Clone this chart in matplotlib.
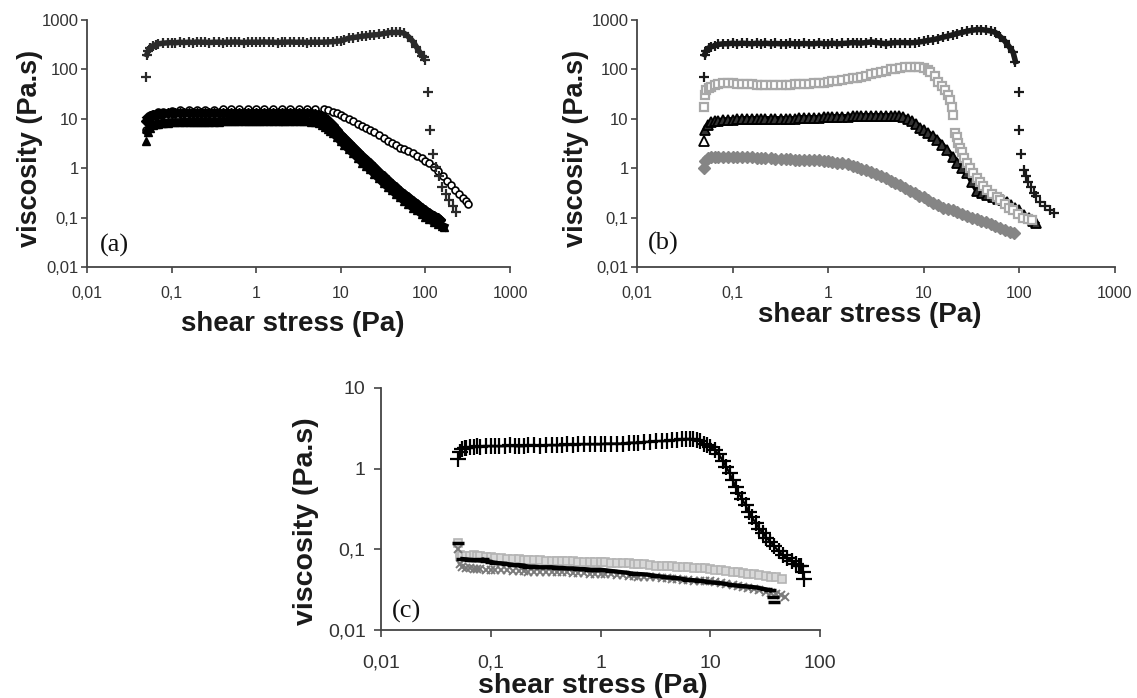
import matplotlib
matplotlib.use('Agg')
import matplotlib.pyplot as plt

plt.rcParams['font.family'] = ['Liberation Sans', 'DejaVu Sans']

# ---------------- panel (a) ----------------
a_plus_x = [0.05, 0.051, 0.053, 0.056, 0.06, 0.065, 0.07, 0.08, 0.09, 0.1,
            0.11, 0.125, 0.14, 0.16, 0.18, 0.2, 0.22, 0.25, 0.28, 0.32,
            0.36, 0.4, 0.45, 0.5, 0.56, 0.63, 0.71, 0.8, 0.9, 1.0,
            1.1, 1.25, 1.4, 1.6, 1.8, 2.0, 2.2, 2.5, 2.8, 3.2,
            3.6, 4.0, 4.5, 5.0, 5.6, 6.3, 7.1, 8.0, 9.0, 10,
            11, 12.5, 14, 16, 18, 20, 22, 25, 28, 32,
            36, 40, 45, 50, 56, 63, 70, 78, 86, 92,
            96, 100, 106, 114, 122, 132, 145, 158, 175, 190,
            210, 230]
a_plus_y = [70, 200, 240, 270, 300, 315, 330, 340, 345, 350,
            345, 355, 350, 355, 350, 360, 355, 355, 350, 355,
            355, 350, 355, 355, 360, 355, 350, 355, 355, 355,
            355, 360, 355, 355, 350, 355, 355, 360, 355, 355,
            355, 350, 355, 355, 355, 355, 360, 365, 370, 380,
            400, 430, 440, 455, 470, 480, 490, 500, 510, 530,
            550, 560, 560, 560, 540, 460, 380, 290, 220, 190,
            175, 158, 35, 6, 1.9, 1.07, 0.7, 0.42, 0.3, 0.23,
            0.17, 0.13]

a_circ_x = [0.05, 0.052, 0.055, 0.06, 0.07, 0.08, 0.1, 0.125, 0.16, 0.2,
            0.25, 0.32, 0.4, 0.5, 0.63, 0.8, 1.0, 1.25, 1.6, 2.0,
            2.5, 3.2, 4.0, 5.0, 6.3, 7.1, 8.0, 9.0, 10, 11,
            12.5, 14, 16, 18, 20, 22, 25, 28, 32, 36,
            40, 45, 50, 56, 63, 71, 80, 90, 100, 111,
            125, 140, 160, 180, 200, 225, 250, 280, 300, 316]
a_circ_y = [6, 9, 11, 12.5, 13.5, 14, 14.5, 15, 15, 15,
            15, 15, 15.5, 15.5, 15.5, 15.5, 15.5, 15.5, 15.5, 15.5,
            15.5, 15.5, 15.5, 15.5, 15.5, 15, 14, 13, 12, 11,
            10, 9, 8, 7.2, 6.5, 6, 5.3, 4.6, 4, 3.6,
            3.2, 2.9, 2.6, 2.4, 2.2, 2, 1.8, 1.6, 1.4, 1.27,
            1.05, 0.88, 0.7, 0.56, 0.46, 0.37, 0.3, 0.25, 0.22, 0.19]

a_dia_x = [0.05, 0.052, 0.055, 0.06, 0.065, 0.07, 0.075, 0.08, 0.09, 0.1,
           0.11, 0.125, 0.14, 0.16, 0.18, 0.2, 0.22, 0.25, 0.28, 0.32,
           0.36, 0.4, 0.45, 0.5, 0.56, 0.63, 0.71, 0.8, 0.9, 1.0,
           1.1, 1.25, 1.4, 1.6, 1.8, 2.0, 2.2, 2.5, 2.8, 3.2,
           3.6, 4.0, 4.5, 5.0, 5.5, 6.0, 6.5, 7.0, 7.5, 8.0,
           9.0, 10, 11, 12.5, 14, 16, 18, 20, 22, 25,
           28, 32, 36, 40, 45, 50, 56, 63, 71, 80,
           90, 100, 111, 125, 140, 150]
a_dia_y = [9, 10.5, 11.5, 12, 12, 12.5, 12.5, 12.5, 13, 13,
           13, 13, 13, 13, 13, 13, 13, 13, 13, 13,
           13, 13, 13, 13, 13, 13, 13, 13, 13, 13,
           13, 13, 13, 13, 13, 13, 13, 13, 13, 13,
           13, 13, 13, 12.5, 12, 11.3, 10.3, 9.3, 8.4, 7.5,
           6, 4.8, 4.1, 3.3, 2.7, 2.15, 1.75, 1.5, 1.28, 1.04,
           0.85, 0.68, 0.57, 0.49, 0.41, 0.35, 0.3, 0.26, 0.22, 0.19,
           0.16, 0.14, 0.125, 0.11, 0.1, 0.09]

a_tri_x = [0.05, 0.052, 0.055, 0.06, 0.065, 0.07, 0.075, 0.08, 0.09, 0.1,
           0.11, 0.125, 0.14, 0.16, 0.18, 0.2, 0.22, 0.25, 0.28, 0.32,
           0.36, 0.4, 0.45, 0.5, 0.56, 0.63, 0.71, 0.8, 0.9, 1.0,
           1.1, 1.25, 1.4, 1.6, 1.8, 2.0, 2.2, 2.5, 2.8, 3.2,
           3.6, 4.0, 4.5, 5.0, 5.5, 6.0, 6.5, 7.0, 7.5, 8.0,
           9.0, 10, 11, 12.5, 14, 16, 18, 20, 22, 25,
           28, 32, 36, 40, 45, 50, 56, 63, 71, 80,
           90, 100, 111, 125, 140, 155, 165]
a_tri_y = [3.5, 5.5, 6.5, 7.5, 7.8, 8, 8.1, 8.2, 8.4, 8.5,
           8.5, 8.5, 8.6, 8.6, 8.7, 8.7, 8.7, 8.8, 8.8, 8.8,
           8.8, 8.9, 8.9, 9, 9, 9, 9, 9, 9, 9,
           9.1, 9.1, 9.1, 9.2, 9.2, 9.2, 9.2, 9.2, 9.2, 9.2,
           9.1, 9, 8.8, 8.5, 8.1, 7.5, 6.9, 6.3, 5.7, 5.2,
           4.3, 3.5, 3, 2.4, 2, 1.6, 1.3, 1.1, 0.95, 0.77,
           0.63, 0.5, 0.42, 0.36, 0.3, 0.26, 0.22, 0.19, 0.16, 0.14,
           0.12, 0.105, 0.093, 0.082, 0.074, 0.068, 0.065]

# ---------------- panel (b) ----------------
b_plus_x = [0.05, 0.051, 0.053, 0.056, 0.06, 0.065, 0.07, 0.08, 0.09, 0.1,
            0.11, 0.125, 0.14, 0.16, 0.18, 0.2, 0.22, 0.25, 0.28, 0.32,
            0.36, 0.4, 0.45, 0.5, 0.56, 0.63, 0.71, 0.8, 0.9, 1.0,
            1.1, 1.25, 1.4, 1.6, 1.8, 2.0, 2.2, 2.5, 2.8, 3.2,
            3.6, 4.0, 4.5, 5.0, 5.6, 6.3, 7.1, 8.0, 9.0, 10,
            11, 12.5, 14, 16, 18, 20, 22, 25, 28, 32,
            36, 40, 45, 50, 56, 63, 70, 78, 86, 91,
            98, 100, 105, 113, 118, 124, 132, 141, 150, 166,
            185, 210, 228]
b_plus_y = [70, 200, 240, 270, 290, 300, 320, 330, 330, 340,
            330, 340, 335, 330, 340, 330, 340, 330, 335, 330,
            330, 335, 330, 330, 335, 330, 330, 340, 330, 330,
            340, 330, 335, 340, 350, 345, 340, 350, 360, 350,
            340, 330, 340, 350, 350, 350, 345, 350, 360, 370,
            385, 400, 420, 450, 475, 500, 530, 560, 590, 620,
            640, 640, 620, 600, 560, 460, 380, 290, 220, 144,
            35, 6, 1.9, 0.93, 0.7, 0.53, 0.42, 0.32, 0.27, 0.21,
            0.17, 0.14, 0.125]

b_sq_x = [0.05, 0.051, 0.053, 0.056, 0.06, 0.065, 0.07, 0.08, 0.09, 0.1,
          0.11, 0.125, 0.14, 0.16, 0.18, 0.2, 0.22, 0.25, 0.28, 0.32,
          0.36, 0.4, 0.45, 0.5, 0.56, 0.63, 0.71, 0.8, 0.9, 1.0,
          1.1, 1.25, 1.4, 1.6, 1.8, 2.0, 2.2, 2.5, 2.8, 3.2,
          3.6, 4.0, 4.5, 5.0, 5.6, 6.3, 7.1, 8.0, 9.0, 10,
          11, 11.7, 13, 14.2, 15.5, 16.8, 18, 18.9, 19.6, 20.3,
          21.3, 22, 23, 24, 25, 26.5, 28.5, 30.5, 33, 36,
          39, 42, 46, 52, 58, 63, 70, 78, 86, 97,
          110, 122, 135]
b_sq_y = [17, 30, 38, 43, 45, 48, 50, 52, 52, 52,
          51, 50, 50, 50, 49, 48, 48, 48, 48, 49,
          49, 49, 50, 50, 50, 51, 52, 53, 54, 56,
          57, 59, 61, 63, 66, 68, 71, 75, 79, 84,
          90, 95, 100, 104, 107, 110, 112, 113, 112, 105,
          98, 90, 72, 56, 46, 39, 30, 24, 17, 12,
          5.2, 4.2, 3.3, 2.6, 2.1, 1.6, 1.3, 1.0, 0.8, 0.63,
          0.53, 0.44, 0.37, 0.3, 0.26, 0.23, 0.19, 0.16, 0.14, 0.12,
          0.097, 0.092, 0.089]

b_tri_x = [0.05, 0.052, 0.055, 0.06, 0.065, 0.07, 0.08, 0.09, 0.1, 0.11,
           0.125, 0.14, 0.16, 0.18, 0.2, 0.22, 0.25, 0.28, 0.32, 0.36,
           0.4, 0.45, 0.5, 0.56, 0.63, 0.71, 0.8, 0.9, 1.0, 1.1,
           1.25, 1.4, 1.6, 1.8, 2.0, 2.2, 2.5, 2.8, 3.2, 3.6,
           4.0, 4.5, 5.0, 5.5, 6.1, 6.8, 7.5, 8.3, 9.2, 10,
           11, 12.4, 13.9, 15.5, 17.5, 20, 22.5, 25, 28.5, 32,
           36, 41, 46, 53, 60, 67, 74, 82, 91, 100,
           112, 125, 140, 150]
b_tri_y = [3.5, 6, 7.5, 8.5, 9, 9, 9.5, 9.5, 9.5, 9.8,
           10, 10, 10, 10, 10, 10, 10, 10, 10, 10,
           10, 10, 10.5, 10.5, 10.5, 10.5, 10.5, 11, 11, 11,
           11, 11, 11, 11.5, 11.5, 11.5, 11.5, 11.5, 11.5, 11.5,
           11.5, 11.5, 11.5, 11.5, 11, 10, 9, 7.8, 6.6, 5.9,
           5.2, 4.5, 3.8, 3.0, 2.3, 1.7, 1.3, 1.0, 0.8, 0.52,
           0.35, 0.31, 0.29, 0.26, 0.24, 0.23, 0.21, 0.18, 0.16, 0.14,
           0.115, 0.1, 0.085, 0.077]

b_dia_x = [0.05, 0.052, 0.055, 0.06, 0.065, 0.07, 0.08, 0.09, 0.1, 0.11,
           0.125, 0.14, 0.16, 0.18, 0.2, 0.22, 0.25, 0.28, 0.32, 0.36,
           0.4, 0.45, 0.5, 0.56, 0.63, 0.71, 0.8, 0.9, 1.0, 1.1,
           1.25, 1.4, 1.6, 1.8, 2.0, 2.2, 2.5, 2.8, 3.2, 3.6,
           4.0, 4.5, 5.0, 5.6, 6.3, 7.1, 8.0, 9.0, 10, 11,
           12.5, 14, 16, 18, 20, 22, 25, 28, 32, 36,
           40, 45, 50, 56, 63, 71, 80, 87]
b_dia_y = [1.0, 1.4, 1.6, 1.65, 1.65, 1.7, 1.7, 1.7, 1.7, 1.65,
           1.65, 1.65, 1.65, 1.6, 1.6, 1.6, 1.6, 1.55, 1.55, 1.55,
           1.55, 1.5, 1.5, 1.5, 1.5, 1.45, 1.45, 1.4, 1.4, 1.35,
           1.3, 1.25, 1.2, 1.1, 1.05, 0.95, 0.9, 0.82, 0.75, 0.68,
           0.62, 0.56, 0.5, 0.45, 0.4, 0.35, 0.31, 0.28, 0.26, 0.23,
           0.2, 0.18, 0.16, 0.15, 0.14, 0.13, 0.12, 0.11, 0.1, 0.092,
           0.085, 0.08, 0.075, 0.068, 0.062, 0.057, 0.052, 0.049]

# ---------------- panel (c) ----------------
c_plus_x = [0.05, 0.052, 0.055, 0.058, 0.06, 0.065, 0.07, 0.075, 0.08, 0.09,
            0.1, 0.11, 0.12, 0.135, 0.15, 0.165, 0.18, 0.2, 0.22, 0.25,
            0.28, 0.32, 0.36, 0.4, 0.45, 0.5, 0.56, 0.63, 0.71, 0.8,
            0.9, 1.0, 1.1, 1.25, 1.4, 1.6, 1.8, 2.0, 2.2, 2.5,
            2.8, 3.2, 3.6, 4.0, 4.5, 5.0, 5.5, 6.0, 6.5, 7.0,
            7.5, 8.0, 8.7, 9.4, 10, 11, 12, 13, 14, 15,
            16, 17, 18, 19.5, 21, 22.5, 24, 26, 28, 30,
            32.5, 35, 38, 42, 46, 50, 55, 60, 64, 67,
            70, 72]
c_plus_y = [1.3, 1.6, 1.75, 1.8, 1.8, 1.85, 1.85, 1.9, 1.85, 1.9,
            1.9, 1.9, 1.9, 1.9, 1.95, 1.9, 1.9, 1.9, 1.95, 1.95,
            1.9, 1.95, 1.95, 1.95, 1.95, 2.0, 1.95, 2.0, 2.0, 2.0,
            2.0, 2.0, 2.05, 2.05, 2.05, 2.05, 2.1, 2.1, 2.1, 2.15,
            2.15, 2.2, 2.2, 2.2, 2.25, 2.25, 2.3, 2.3, 2.3, 2.3,
            2.25, 2.2, 2.05, 1.95, 1.85, 1.7, 1.5, 1.25, 1.05, 0.88,
            0.72, 0.6, 0.5, 0.42, 0.35, 0.29, 0.25, 0.21, 0.18, 0.16,
            0.14, 0.125, 0.11, 0.095, 0.085, 0.078, 0.072, 0.066, 0.063, 0.062,
            0.052, 0.043]

c_line_x = [0.05, 0.055, 0.06, 0.065, 0.07, 0.075, 0.08, 0.085, 0.09, 0.1,
            0.11, 0.125, 0.14, 0.16, 0.18, 0.2, 0.22, 0.25, 0.28, 0.32,
            0.36, 0.4, 0.45, 0.5, 0.56, 0.63, 0.71, 0.8, 0.9, 1.0,
            1.25, 1.6, 2.0, 2.5, 3.2, 4.0, 5.0, 6.3, 8.0, 10,
            12.5, 16, 20, 25, 32, 35, 37, 38]
c_line_y = [0.12, 0.076, 0.075, 0.074, 0.074, 0.074, 0.073, 0.075, 0.072, 0.07,
            0.068, 0.067, 0.066, 0.064, 0.064, 0.063, 0.061, 0.061, 0.06, 0.06,
            0.06, 0.059, 0.059, 0.058, 0.058, 0.057, 0.057, 0.056, 0.056, 0.056,
            0.054, 0.052, 0.05, 0.049, 0.047, 0.045, 0.044, 0.042, 0.041, 0.039,
            0.038, 0.036, 0.035, 0.034, 0.032, 0.031, 0.026, 0.022]

c_sq_x = [0.05, 0.052, 0.055, 0.06, 0.065, 0.07, 0.075, 0.08, 0.09, 0.1,
          0.11, 0.125, 0.14, 0.16, 0.18, 0.2, 0.22, 0.25, 0.28, 0.32,
          0.36, 0.4, 0.45, 0.5, 0.56, 0.63, 0.71, 0.8, 0.9, 1.0,
          1.1, 1.25, 1.4, 1.6, 1.8, 2.0, 2.2, 2.5, 2.8, 3.2,
          3.6, 4.0, 4.5, 5.0, 5.6, 6.3, 7.1, 8.0, 9.0, 10,
          11, 12.5, 14, 16, 18, 20, 22, 25, 28, 32,
          36, 40, 45]
c_sq_y = [0.12, 0.085, 0.083, 0.082, 0.083, 0.084, 0.083, 0.082, 0.081, 0.08,
          0.078, 0.077, 0.076, 0.075, 0.075, 0.074, 0.074, 0.073, 0.073, 0.072,
          0.072, 0.072, 0.071, 0.071, 0.071, 0.07, 0.07, 0.07, 0.07, 0.069,
          0.069, 0.068, 0.068, 0.067, 0.067, 0.066, 0.066, 0.065, 0.064, 0.063,
          0.063, 0.062, 0.062, 0.061, 0.06, 0.06, 0.059, 0.058, 0.058, 0.057,
          0.056, 0.055, 0.054, 0.053, 0.052, 0.051, 0.05, 0.049, 0.048, 0.047,
          0.046, 0.045, 0.043]

c_x_x = [0.05, 0.052, 0.055, 0.06, 0.065, 0.07, 0.075, 0.08, 0.09, 0.1,
         0.11, 0.125, 0.14, 0.16, 0.18, 0.2, 0.22, 0.25, 0.28, 0.32,
         0.36, 0.4, 0.45, 0.5, 0.56, 0.63, 0.71, 0.8, 0.9, 1.0,
         1.1, 1.25, 1.4, 1.6, 1.8, 2.0, 2.2, 2.5, 2.8, 3.2,
         3.6, 4.0, 4.5, 5.0, 5.6, 6.3, 7.1, 8.0, 9.0, 10,
         11, 12.5, 14, 16, 18, 20, 22, 25, 28, 32,
         36, 40, 44, 48]
c_x_y = [0.1, 0.065, 0.06, 0.058, 0.058, 0.057, 0.057, 0.057, 0.056, 0.056,
         0.055, 0.055, 0.055, 0.054, 0.054, 0.054, 0.053, 0.053, 0.053, 0.052,
         0.052, 0.052, 0.052, 0.052, 0.051, 0.051, 0.051, 0.05, 0.05, 0.05,
         0.049, 0.049, 0.048, 0.048, 0.047, 0.047, 0.046, 0.046, 0.045, 0.045,
         0.044, 0.044, 0.043, 0.043, 0.042, 0.042, 0.041, 0.041, 0.04, 0.04,
         0.039, 0.038, 0.037, 0.036, 0.035, 0.034, 0.033, 0.032, 0.031, 0.03,
         0.029, 0.028, 0.027, 0.026]

# tick values / labels (decimal comma as in the original)
ab_ticks = [0.01, 0.1, 1, 10, 100, 1000]
ab_labels = ['0,01', '0,1', '1', '10', '100', '1000']
c_xticks = [0.01, 0.1, 1, 10, 100]
c_xlabels = ['0,01', '0,1', '1', '10', '100']
c_yticks = [0.01, 0.1, 1, 10]
c_ylabels = ['0,01', '0,1', '1', '10']

W, H = 1137.0, 698.0
def box(l, t, r, b):
    return [l / W, 1 - b / H, (r - l) / W, (b - t) / H]
def pt(x, y):
    return x / W, 1 - y / H

fig = plt.figure(figsize=(11.37, 6.98), dpi=100)
axa = fig.add_axes(box(87, 20, 510, 267))
axb = fig.add_axes(box(637, 20, 1115, 267))
axc = fig.add_axes(box(381, 388, 820, 630))

def style(ax, xt, xl, yt, yl, xfs, yfs, tl, xpad, ypad):
    ax.set_xscale('log'); ax.set_yscale('log')
    ax.set_xlim(xt[0], xt[-1]); ax.set_ylim(yt[0], yt[-1])
    ax.set_xticks(xt, xl); ax.set_yticks(yt, yl)
    ax.minorticks_off()
    ax.spines['top'].set_visible(False)
    ax.spines['right'].set_visible(False)
    for s in ['left', 'bottom']:
        ax.spines[s].set_color('#444444')
        ax.spines[s].set_linewidth(1.3)
    ax.tick_params(direction='out', length=tl, width=1.2, color='#444444',
                   labelcolor='#333333')
    ax.tick_params(axis='x', pad=xpad, labelsize=xfs)
    ax.tick_params(axis='y', pad=ypad, labelsize=yfs)
    ax.patch.set_alpha(0)

style(axa, ab_ticks, ab_labels, ab_ticks, ab_labels, 11.5, 12, 4, 10, 2)
style(axb, ab_ticks, ab_labels, ab_ticks, ab_labels, 11.5, 12, 4, 10, 2)
style(axc, c_xticks, c_xlabels, c_yticks, c_ylabels, 14, 14, 5, 13, 6)

# (a)  circles underneath, dense black bands on top
axa.plot(a_circ_x, a_circ_y, ls='none', marker='o', ms=5, mfc='white',
         mec='black', mew=1.2)
axa.plot(a_tri_x[1:], a_tri_y[1:], '-', lw=6, color='black')
axa.plot(a_tri_x, a_tri_y, ls='none', marker='^', ms=6, color='black')
axa.plot(a_dia_x[1:], a_dia_y[1:], '-', lw=6, color='black')
axa.plot(a_dia_x, a_dia_y, ls='none', marker='D', ms=5, color='black')
axa.plot(a_plus_x[1:70], a_plus_y[1:70], '-', lw=4, color='#2a2a2a')
axa.plot(a_plus_x, a_plus_y, ls='none', marker='+', ms=7, mew=1.6, color='#2a2a2a')

# (b)
axb.plot(b_dia_x[1:], b_dia_y[1:], '-', lw=4, color='#858585')
axb.plot(b_dia_x, b_dia_y, ls='none', marker='D', ms=6, color='#858585')
axb.plot(b_tri_x[1:], b_tri_y[1:], '-', lw=4, color='black')
axb.plot(b_tri_x[1:], b_tri_y[1:], ls='none', marker='^', ms=6.5, mfc='#333333',
         mec='black', mew=1.3)
axb.plot(b_tri_x[:1], b_tri_y[:1], ls='none', marker='^', ms=6.5, mfc='white',
         mec='black', mew=1.3)
axb.plot(b_sq_x, b_sq_y, ls='none', marker='s', ms=6, mfc='white',
         mec='#a8a8a8', mew=1.6)
axb.plot(b_plus_x[1:70], b_plus_y[1:70], '-', lw=4, color='#1a1a1a')
axb.plot(b_plus_x, b_plus_y, ls='none', marker='+', ms=7, mew=1.6, color='#1a1a1a')

# (c)
axc.plot(c_sq_x, c_sq_y, ls='none', marker='s', ms=6, mfc='#d8d8d8',
         mec='#b4b4b4', mew=1.2)
axc.plot(c_x_x, c_x_y, ls='none', marker='x', ms=6, mew=1.4, color='#7a7a7a')
axc.plot(c_line_x[1:-2], c_line_y[1:-2], '-', lw=3, color='black')
axc.plot(c_line_x, c_line_y, ls='none', marker='_', ms=8, mew=2.5, color='black')
axc.plot(c_plus_x[1:], c_plus_y[1:], '-', lw=1.6, color='black')
axc.plot(c_plus_x, c_plus_y, ls='none', marker='+', ms=11, mew=1.6, color='black')

# axis titles
lab = dict(fontweight='bold', color='#1a1a1a')
fig.text(*pt(30, 148), 'viscosity (Pa.s)', rotation=90, ha='center', va='center',
         fontsize=19.5, **lab)
fig.text(*pt(576, 148), 'viscosity (Pa.s)', rotation=90, ha='center', va='center',
         fontsize=19.5, **lab)
fig.text(*pt(306, 521), 'viscosity (Pa.s)', rotation=90, ha='center', va='center',
         fontsize=20.5, **lab)
fig.text(*pt(293, 331), 'shear stress (Pa)', ha='center', va='baseline',
         fontsize=20, **lab)
fig.text(*pt(870, 322), 'shear stress (Pa)', ha='center', va='baseline',
         fontsize=20, **lab)
fig.text(*pt(593, 693), 'shear stress (Pa)', ha='center', va='baseline',
         fontsize=20.5, **lab)

# panel letters
serif = dict(family='Liberation Serif', fontsize=19, color='#111111',
             ha='left', va='baseline')
fig.text(*pt(100, 252), '(a)', **serif)
fig.text(*pt(648, 250), '(b)', **serif)
fig.text(*pt(392, 618), '(c)', **serif)

fig.savefig('out.png', dpi=100)
